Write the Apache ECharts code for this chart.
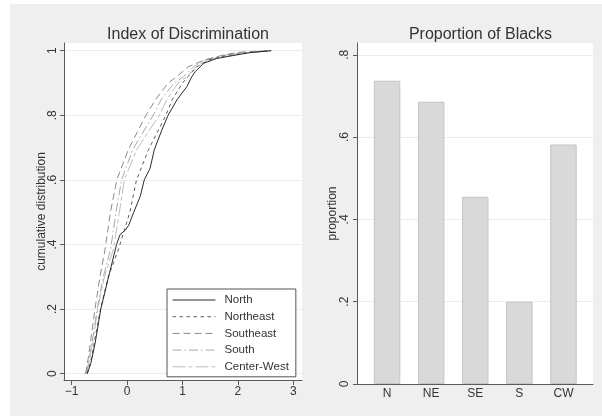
<!DOCTYPE html>
<html>
<head>
<meta charset="utf-8">
<script src="https://cdn.jsdelivr.net/npm/echarts@6/dist/echarts.min.js"></script>
<style>
html,body{margin:0;padding:0;background:#fff;}
#chart{width:602px;height:420px;}
</style>
</head>
<body>
<div id="chart"></div>
<script>
// ---- Left panel: cumulative distributions of the index of discrimination ----
const seriesNames = ['North', 'Northeast', 'Southeast', 'South', 'Center-West'];

const northLevels = [0, 0.032, 0.094, 0.2, 0.31, 0.4, 0.43, 0.445, 0.46, 0.5, 0.548, 0.6, 0.636, 0.693, 0.754, 0.8, 0.848, 0.889, 0.92, 0.935, 0.961, 0.976, 0.987, 0.994, 1];
const northX = [-0.72, -0.655, -0.578, -0.475, -0.32, -0.19, -0.13, -0.03, 0.03, 0.12, 0.235, 0.31, 0.415, 0.49, 0.626, 0.74, 0.9, 1.08, 1.17, 1.23, 1.38, 1.62, 1.98, 2.22, 2.6];

const otherLevels = [0, 0.05, 0.1, 0.2, 0.3, 0.383, 0.5, 0.6, 0.693, 0.8, 0.85, 0.9, 0.92, 0.95, 0.97, 0.985, 0.995, 1];
const northeastX = [-0.72, -0.64, -0.59, -0.48, -0.34, -0.16, 0.05, 0.17, 0.385, 0.70, 0.82, 1.0, 1.1, 1.26, 1.45, 1.8, 2.25, 2.6];
const southeastX = [-0.75, -0.70, -0.66, -0.58, -0.49, -0.40, -0.30, -0.186, 0.02, 0.34, 0.52, 0.74, 0.9, 1.1, 1.38, 1.7, 2.0, 2.6];
const southX = [-0.73, -0.68, -0.63, -0.54, -0.43, -0.30, -0.20, -0.10, 0.10, 0.47, 0.62, 0.85, 1.02, 1.2, 1.38, 1.72, 2.1, 2.6];
const centerWestX = [-0.74, -0.67, -0.62, -0.53, -0.41, -0.25, -0.14, -0.05, 0.17, 0.58, 0.72, 0.92, 1.08, 1.25, 1.42, 1.78, 2.2, 2.6];

const leftXTicks = [-1, 0, 1, 2, 3];
const leftXTickLabels = ['\u22121', '0', '1', '2', '3'];
const leftYTicks = [0, 0.2, 0.4, 0.6, 0.8, 1];
const leftYTickLabels = ['0', '.2', '.4', '.6', '.8', '1'];

// ---- Right panel: proportion of blacks ----
const regions = ['N', 'NE', 'SE', 'S', 'CW'];
const regionPositions = [1, 2, 3, 4, 5];
const proportions = [0.737, 0.686, 0.455, 0.200, 0.582];
const rightYTicks = [0, 0.2, 0.4, 0.6, 0.8];
const rightYTickLabels = ['0', '.2', '.4', '.6', '.8'];

function pairs(xs, ys) { return xs.map((x, i) => [x, ys[i]]); }
function labelFor(ticks, labels) { return v => { const i = ticks.findIndex(t => Math.abs(t - v) < 1e-6); return i >= 0 ? labels[i] : ''; }; }

const FONT = '"Liberation Sans", Arial, Helvetica, sans-serif';
const AXIS_COLOR = '#5a5a5a';
const TEXT_COLOR = '#333';
const GRID_COLOR = '#ececec';

const lineStyles = [
  { color: '#2b2b2b', type: 'solid' },
  { color: '#5c5c5c', type: [3.5, 3.5] },
  { color: '#8a8a8a', type: [7, 4] },
  { color: '#a9a9a9', type: [9, 3, 1.5, 3] },
  { color: '#bdbdbd', type: [13, 3, 4, 3] }
];
const cdfData = [
  pairs(northX, northLevels),
  pairs(northeastX, otherLevels),
  pairs(southeastX, otherLevels),
  pairs(southX, otherLevels),
  pairs(centerWestX, otherLevels)
];

const chart = echarts.init(document.getElementById('chart'), null, { renderer: 'canvas' });

const option = {
  animation: false,
  backgroundColor: '#ffffff',
  textStyle: { fontFamily: FONT },
  graphic: [{
    type: 'rect', z: -10, silent: true,
    shape: { x: 10, y: 4, width: 592, height: 412 },
    style: { fill: '#efefef' }
  }],
  title: [
    { text: 'Index of Discrimination', left: 183, top: 22, textAlign: 'center',
      textStyle: { fontSize: 16, fontWeight: 'normal', color: TEXT_COLOR, fontFamily: FONT } },
    { text: 'Proportion of Blacks', left: 475.5, top: 22, textAlign: 'center',
      textStyle: { fontSize: 16, fontWeight: 'normal', color: TEXT_COLOR, fontFamily: FONT } }
  ],
  legend: {
    data: seriesNames,
    orient: 'vertical',
    left: 167, top: 289,
    padding: [5, 7, 4, 5],
    itemWidth: 43, itemHeight: 12, itemGap: 4.7,
    backgroundColor: '#ffffff',
    borderColor: '#555', borderWidth: 1, borderRadius: 0,
    itemStyle: { opacity: 0, borderWidth: 0 },
    lineStyle: { width: 1 },
    textStyle: { fontSize: 11.5, color: TEXT_COLOR, fontFamily: FONT, padding: [0, 0, 0, 4] }
  },
  grid: [
    { left: 64, top: 43, width: 238, height: 337, show: true, backgroundColor: '#ffffff', borderWidth: 0 },
    { left: 357, top: 43, width: 236, height: 341, show: true, backgroundColor: '#ffffff', borderWidth: 0 }
  ],
  xAxis: [
    { type: 'value', gridIndex: 0, min: -1.139, max: 3.157,
      axisLine: { show: true, onZero: false, lineStyle: { color: AXIS_COLOR } },
      axisTick: { show: true, length: 5, customValues: leftXTicks, lineStyle: { color: AXIS_COLOR } },
      axisLabel: { customValues: leftXTicks, formatter: labelFor(leftXTicks, leftXTickLabels), margin: 6,
        fontSize: 12, color: TEXT_COLOR, fontFamily: FONT },
      splitLine: { show: false } },
    { type: 'value', gridIndex: 1, min: 0.318, max: 5.67,
      axisLine: { show: true, onZero: false, lineStyle: { color: AXIS_COLOR } },
      axisTick: { show: false, customValues: regionPositions },
      axisLabel: { customValues: regionPositions, formatter: labelFor(regionPositions, regions), margin: 4,
        fontSize: 12, color: TEXT_COLOR, fontFamily: FONT },
      splitLine: { show: false } }
  ],
  yAxis: [
    { type: 'value', gridIndex: 0, min: -0.0195, max: 1.0238,
      name: 'cumulative distribution', nameLocation: 'middle', nameGap: 16, nameMoveOverlap: false,
      nameTextStyle: { fontSize: 12, color: TEXT_COLOR, fontFamily: FONT },
      axisLine: { show: true, onZero: false, lineStyle: { color: AXIS_COLOR } },
      axisTick: { show: true, length: 4, customValues: leftYTicks, lineStyle: { color: AXIS_COLOR } },
      axisLabel: { customValues: leftYTicks, formatter: labelFor(leftYTicks, leftYTickLabels), rotate: 90, margin: 5,
        fontSize: 12, color: TEXT_COLOR, fontFamily: FONT },
      splitLine: { show: true, lineStyle: { color: GRID_COLOR, width: 1 } } },
    { type: 'value', gridIndex: 1, min: 0, max: 0.8287,
      name: 'proportion', nameLocation: 'middle', nameGap: 18, nameMoveOverlap: false,
      nameTextStyle: { fontSize: 12, color: TEXT_COLOR, fontFamily: FONT },
      axisLine: { show: true, onZero: false, lineStyle: { color: AXIS_COLOR } },
      axisTick: { show: true, length: 4, customValues: rightYTicks, lineStyle: { color: AXIS_COLOR } },
      axisLabel: { customValues: rightYTicks, formatter: labelFor(rightYTicks, rightYTickLabels), rotate: 90, margin: 6,
        fontSize: 12, color: TEXT_COLOR, fontFamily: FONT },
      splitLine: { show: true, lineStyle: { color: GRID_COLOR, width: 1 } } }
  ],
  series: seriesNames.map((name, i) => ({
    name: name, type: 'line', xAxisIndex: 0, yAxisIndex: 0,
    data: cdfData[i], symbol: 'none', showSymbol: false,
    lineStyle: { color: lineStyles[i].color, type: lineStyles[i].type, width: 1 },
    itemStyle: { color: lineStyles[i].color },
    z: 10 - i
  })).concat([{
    name: 'proportion', type: 'bar', xAxisIndex: 1, yAxisIndex: 1,
    data: pairs(regionPositions, proportions), barWidth: 26.5,
    itemStyle: { color: '#d9d9d9', borderColor: '#c4c4c4', borderWidth: 1 }
  }])
};
chart.setOption(option);
</script>
</body>
</html>
